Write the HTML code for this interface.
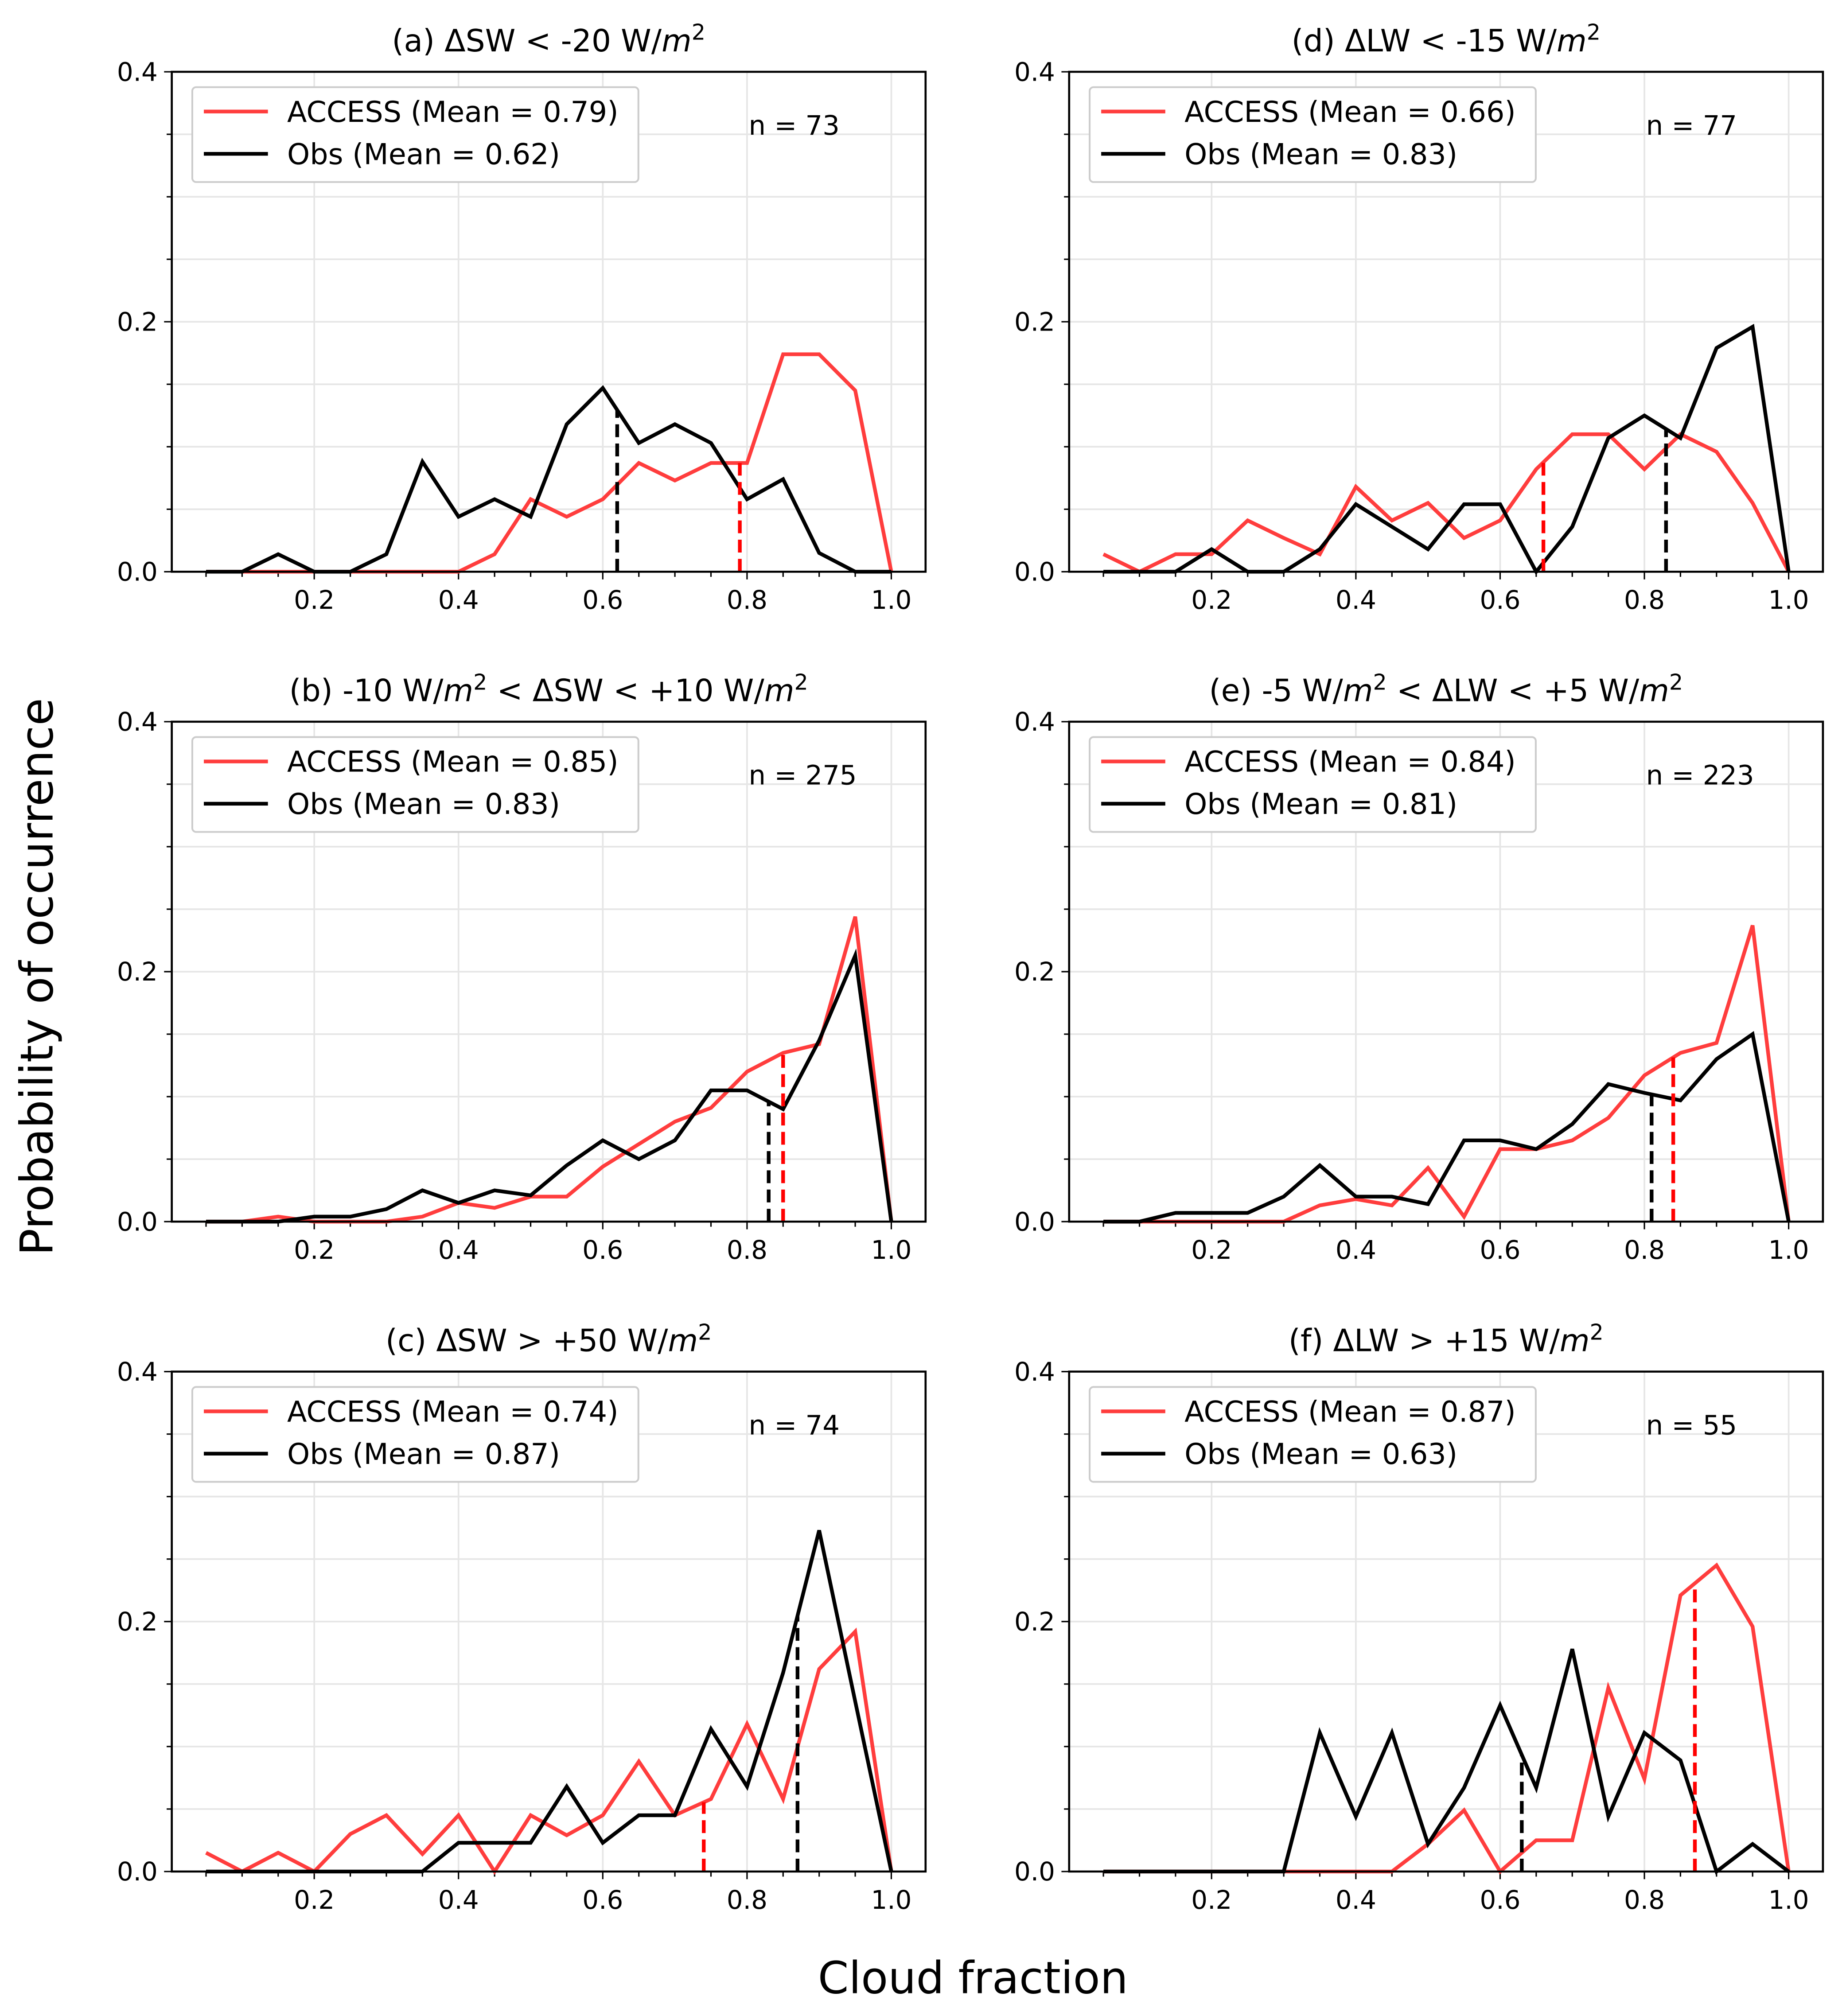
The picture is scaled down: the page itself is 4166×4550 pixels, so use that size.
<!DOCTYPE html>
<html><head><meta charset="utf-8"><style>
html,body{margin:0;padding:0;background:#fff;}
svg{display:block;font-family:"DejaVu Sans","Liberation Sans",sans-serif;}
</style></head><body>
<svg id="fig" width="4166" height="4550" viewBox="0 0 1440 1572.7" xmlns="http://www.w3.org/2000/svg">
<rect width="1440" height="1573" fill="#fff"/>
<text x="41" y="762" font-size="35" text-anchor="middle" transform="rotate(-90 41 762)">Probability of occurrence</text>
<text x="759" y="1555" font-size="34.5" text-anchor="middle">Cloud fraction</text>
</svg>
<script>
const xs=[0.05,0.1,0.15,0.2,0.25,0.3,0.35,0.4,0.45,0.5,0.55,0.6,0.65,0.7,0.75,0.8,0.85,0.9,0.95,1.0];
const titles=['(a) ΔSW < -20 W/<m>','(b) -10 W/<m> < ΔSW < +10 W/<m>','(c) ΔSW > +50 W/<m>','(d) ΔLW < -15 W/<m>','(e) -5 W/<m> < ΔLW < +5 W/<m>','(f) ΔLW > +15 W/<m>'];
const counts=[73,275,74,77,223,55];
const meansAccess=[0.79,0.85,0.74,0.66,0.84,0.87];
const meansObs=[0.62,0.83,0.87,0.83,0.81,0.63];
const accessA=[0,0,0,0,0,0,0,0,0.014,0.058,0.044,0.058,0.087,0.073,0.087,0.087,0.174,0.174,0.145,0];
const obsA=[0,0,0.014,0,0,0.014,0.088,0.044,0.058,0.044,0.118,0.147,0.103,0.118,0.103,0.058,0.074,0.015,0,0];
const accessB=[0,0,0.004,0,0,0,0.004,0.015,0.011,0.02,0.02,0.044,0.062,0.08,0.091,0.12,0.135,0.142,0.244,0];
const obsB=[0,0,0,0.004,0.004,0.01,0.025,0.015,0.025,0.021,0.045,0.065,0.05,0.065,0.105,0.105,0.09,0.145,0.213,0];
const accessC=[0.015,0,0.015,0,0.03,0.045,0.014,0.045,0,0.045,0.029,0.045,0.088,0.045,0.058,0.118,0.058,0.162,0.192,0];
const obsC=[0,0,0,0,0,0,0,0.023,0.023,0.023,0.068,0.023,0.045,0.045,0.114,0.068,0.159,0.273,0.136,0];
const accessD=[0.014,0,0.014,0.014,0.041,0.027,0.014,0.068,0.041,0.055,0.027,0.041,0.082,0.11,0.11,0.082,0.11,0.096,0.055,0];
const obsD=[0,0,0,0.018,0,0,0.018,0.054,0.036,0.018,0.054,0.054,0,0.036,0.107,0.125,0.107,0.179,0.196,0];
const accessE=[0,0,0,0,0,0,0.013,0.018,0.013,0.043,0.004,0.058,0.058,0.065,0.083,0.117,0.135,0.143,0.237,0];
const obsE=[0,0,0.007,0.007,0.007,0.02,0.045,0.02,0.02,0.014,0.065,0.065,0.058,0.078,0.11,0.103,0.097,0.13,0.15,0];
const accessF=[0,0,0,0,0,0,0,0,0,0.022,0.049,0,0.025,0.025,0.147,0.074,0.221,0.245,0.196,0];
const obsF=[0,0,0,0,0,0,0.111,0.044,0.111,0.022,0.067,0.133,0.067,0.178,0.044,0.111,0.089,0,0.022,0];
const accessAll=[accessA,accessB,accessC,accessD,accessE,accessF];
const obsAll=[obsA,obsB,obsC,obsD,obsE,obsF];
const yTicks=[0,0.2,0.4];
const xTicks=[0.2,0.4,0.6,0.8,1.0];
const xMin=0.0025,xMax=1.0475,yMax=0.4;
const NS='http://www.w3.org/2000/svg';
const svg=document.getElementById('fig');
function mk(tag,attrs,parent){const e=document.createElementNS(NS,tag);for(const k in attrs)e.setAttribute(k,attrs[k]);(parent||svg).appendChild(e);return e;}
function interp(arr,m){for(let i=0;i<xs.length-1;i++){if(m>=xs[i]&&m<=xs[i+1]){const t=(m-xs[i])/(xs[i+1]-xs[i]);return arr[i]+t*(arr[i+1]-arr[i]);}}return 0;}
const lefts=[134,834],tops=[56,563,1070],W=588,H=390;
for(let p=0;p<6;p++){
  const L=lefts[Math.floor(p/3)],T=tops[p%3];
  const g=mk('g',{});
  
  
  const X=v=>L+(v-xMin)/(xMax-xMin)*W, Y=v=>T+H-v/yMax*H;
  for(let v=0.05;v<0.4;v+=0.05){mk('line',{x1:L,x2:L+W,y1:Y(v),y2:Y(v),stroke:'#e6e6e6','stroke-width':1.3},g);}
  xTicks.forEach(v=>mk('line',{x1:X(v),x2:X(v),y1:T,y2:T+H,stroke:'#e6e6e6','stroke-width':1.3},g));
  for(let i=1;i<=20;i++){const v=i*0.05;mk('line',{x1:X(v),x2:X(v),y1:T+H,y2:T+H+(i%4==0?6:4),stroke:'#000','stroke-width':1.1},g);}
  for(let i=0;i<=8;i++){const v=i*0.05;mk('line',{x1:L,x2:L-(i%4==0?6:4),y1:Y(v),y2:Y(v),stroke:'#000','stroke-width':1.1},g);}
  xTicks.forEach(v=>{const t=mk('text',{x:X(v),y:T+H+29,'font-size':20,'text-anchor':'middle'},g);t.textContent=v.toFixed(1);});
  yTicks.forEach(v=>{const t=mk('text',{x:L-11,y:Y(v)+7,'font-size':20,'text-anchor':'end'},g);t.textContent=v.toFixed(1);});
  const pts=a=>a.map((v,i)=>X(xs[i])+','+Y(v)).join(' ');
  const ra=mk('polyline',{points:pts(accessAll[p]),fill:'none',stroke:'#ff3d3d','stroke-width':2.9},g);
  
  
  const ro=mk('polyline',{points:pts(obsAll[p]),fill:'none',stroke:'#000','stroke-width':2.9},g);
  
  
  const ma=meansAccess[p],mo=meansObs[p];
  const da=mk('line',{x1:X(ma),x2:X(ma),y1:Y(0),y2:Y(interp(accessAll[p],ma)),stroke:'#f00','stroke-width':2.9,'stroke-dasharray':'10,5'},g);
  
  
  const dO=mk('line',{x1:X(mo),x2:X(mo),y1:Y(0),y2:Y(interp(obsAll[p],mo)),stroke:'#000','stroke-width':2.9,'stroke-dasharray':'10,5'},g);
  
  
  mk('rect',{x:L,y:T,width:W,height:H,fill:'none',stroke:'#000','stroke-width':1.6},g);
  const tt=mk('text',{x:L+W/2,y:T-16,'font-size':24,'text-anchor':'middle'},g);
  
  
  titles[p].split('<m>').forEach((s,i,arr)=>{
    if(s){const a=mk('tspan',{},tt);a.textContent=s;}
    if(i<arr.length-1){const m=mk('tspan',{'font-style':'italic'},tt);m.textContent='m';const sup=mk('tspan',{dy:-9,'font-size':17},tt);sup.textContent='2';const back=mk('tspan',{dy:9},tt);back.textContent='\u200b';}
  });
  const lg=mk('g',{},g);
  
  
  mk('rect',{x:L+16,y:T+12,width:348,height:74,rx:3,fill:'#fff',stroke:'#ccc','stroke-width':1.4},lg);
  mk('line',{x1:L+25,x2:L+75,y1:T+31,y2:T+31,stroke:'#ff3d3d','stroke-width':2.9},lg);
  mk('line',{x1:L+25,x2:L+75,y1:T+64,y2:T+64,stroke:'#000','stroke-width':2.9},lg);
  const l1=mk('text',{x:L+90,y:T+39,'font-size':22.5},lg);l1.textContent='ACCESS (Mean = '+ma.toFixed(2)+')';
  const l2=mk('text',{x:L+90,y:T+72,'font-size':22.5},lg);l2.textContent='Obs (Mean = '+mo.toFixed(2)+')';
  const nt=mk('text',{x:L+450,y:T+49,'font-size':21},g);
  
  
  nt.textContent='n = '+counts[p];
}
</script>
</body></html>
